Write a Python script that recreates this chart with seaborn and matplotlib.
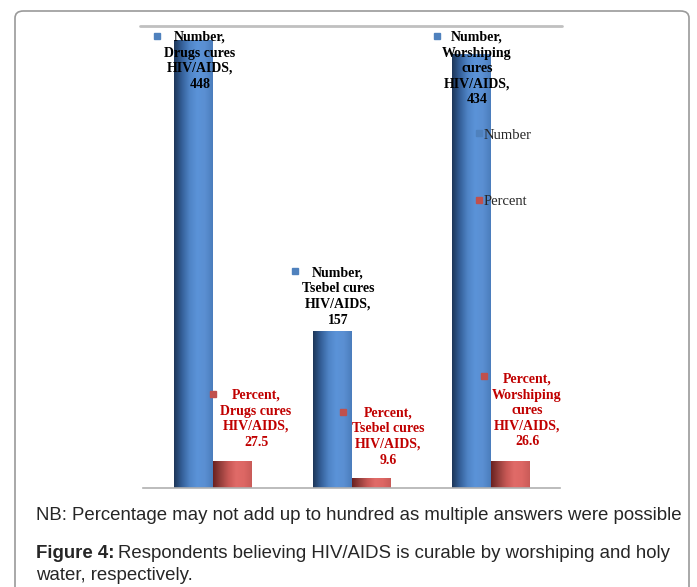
import numpy as np
import pandas as pd
import matplotlib
matplotlib.use("Agg")
import matplotlib.pyplot as plt
import seaborn as sns
from matplotlib.colors import LinearSegmentedColormap
from matplotlib.lines import Line2D
from matplotlib.patches import FancyBboxPatch

# Dados
causes = ["Drugs cures HIV/AIDS", "Tsebel cures HIV/AIDS", "Worshiping cures HIV/AIDS"]
cause_labels = ["Drugs cures\nHIV/AIDS", "Tsebel cures\nHIV/AIDS", "Worshiping\ncures\nHIV/AIDS"]
number = [448, 157, 434]
percent = [27.5, 9.6, 26.6]
series = ["Number", "Percent"]

df = pd.DataFrame({"cause": causes * 2,
                   "series": ["Number"] * 3 + ["Percent"] * 3,
                   "value": number + percent})

blue, red = "#4f81bd", "#c0504d"
blue_cmap = LinearSegmentedColormap.from_list(
    "b", ["#1d3658", "#345f98", "#4f84c6", "#5b93d8", "#5a8fd2", "#4b7dbc"])
red_cmap = LinearSegmentedColormap.from_list(
    "r", ["#6a2120", "#98403d", "#c85855", "#e06b68", "#dd6764", "#c95b58"])

sns.set_style("white")
plt.rcParams["font.family"] = ["Liberation Serif", "DejaVu Serif"]

fig = plt.figure(figsize=(6.97, 5.87), dpi=100)
ax = fig.add_axes([143 / 697, 1 - 488 / 587, 417 / 697, 462 / 587])

sns.barplot(data=df, x="cause", y="value", hue="series", hue_order=series,
            palette=[blue, red], width=0.56, legend=False, ax=ax)

# Efeito de cilindro nas barras
for patch in list(ax.patches):
    x, y = patch.get_xy()
    w, h = patch.get_width(), patch.get_height()
    cmap = blue_cmap if patch.get_facecolor()[2] > 0.5 else red_cmap
    grad = np.linspace(0, 1, 128).reshape(1, -1)
    im = ax.imshow(grad, cmap=cmap, aspect="auto", extent=[x, x + w, y, y + h],
                   zorder=patch.get_zorder() + 0.1)
    im.set_clip_path(patch)
ax.set_xlim(-0.5, 2.5)
ax.set_ylim(0, 462)

ax.set_xlabel("")
ax.set_ylabel("")
ax.set_xticks([])
ax.set_yticks([])
sns.despine(ax=ax, left=True, top=True, right=True)
ax.spines["bottom"].set_color("#b0b0b0")
ax.spines["bottom"].set_linewidth(1.2)

# Rótulos de dados (posição do rótulo, posição do marcador)
num_pos = [(-0.09, 457, -0.40, 452), (0.903, 221, 0.594, 217), (1.903, 457, 1.615, 452)]
pct_pos = [(0.313, 99, 0.004, 94), (1.263, 81, 0.939, 76), (2.263, 115, 1.953, 112)]

for i in range(3):
    tx, ty, mx, my = num_pos[i]
    ax.text(tx, ty, f"Number,\n{cause_labels[i]},\n{number[i]}", ha="center", va="top",
            fontsize=10, fontweight="bold", color="black", linespacing=1.25, zorder=5)
    ax.plot(mx, my, marker="s", ms=5, color=blue, ls="none", zorder=5, clip_on=False)
    tx, ty, mx, my = pct_pos[i]
    ax.text(tx, ty, f"Percent,\n{cause_labels[i]},\n{percent[i]}", ha="center", va="top",
            fontsize=10, fontweight="bold", color="#c00000", linespacing=1.25, zorder=5)
    ax.plot(mx, my, marker="s", ms=5, color=red, ls="none", zorder=5, clip_on=False)

handles = [Line2D([], [], marker="s", ls="none", color=c, ms=5) for c in [blue, red]]
ax.legend(handles, series, loc="upper left", bbox_to_anchor=(467 / 697, 1 - 121 / 587),
          bbox_transform=fig.transFigure, frameon=False, fontsize=10.5,
          labelspacing=3.65, handlelength=0.6, handletextpad=0.05, borderpad=0)

# Moldura externa e linha superior do gráfico
fig.patches.append(FancyBboxPatch((15 / 697, -0.05), 674 / 697, 1.05 - 11 / 587,
                                  boxstyle="round,pad=0,rounding_size=0.012",
                                  transform=fig.transFigure, fill=False,
                                  edgecolor="#9a9a9a", linewidth=1.2))
fig.lines.append(Line2D([140 / 697, 562 / 697], [1 - 26 / 587, 1 - 26 / 587],
                        transform=fig.transFigure, color="#c0c0c0", lw=2))

# Legenda da figura
sans = ["Liberation Sans", "DejaVu Sans"]
fs = 13.4
fig.text(36 / 697, 1 - 516 / 587, "NB: Percentage may not add up to hundred as multiple answers were possible",
         family=sans, fontsize=fs, va="center", ha="left")
t = fig.text(36 / 697, 1 - 553 / 587, "Figure 4:", family=sans, fontsize=fs,
             fontweight="bold", va="center", ha="left")
fig.canvas.draw()
bb = t.get_window_extent()
fig.text(bb.x1 / 697 + 4 / 697, 1 - 553 / 587,
         "Respondents believing HIV/AIDS is curable by worshiping and holy",
         family=sans, fontsize=fs, va="center", ha="left")
fig.text(36 / 697, 1 - 575 / 587, "water, respectively.", family=sans, fontsize=fs,
         va="center", ha="left")

fig.savefig("out.png", dpi=100, facecolor="white")
